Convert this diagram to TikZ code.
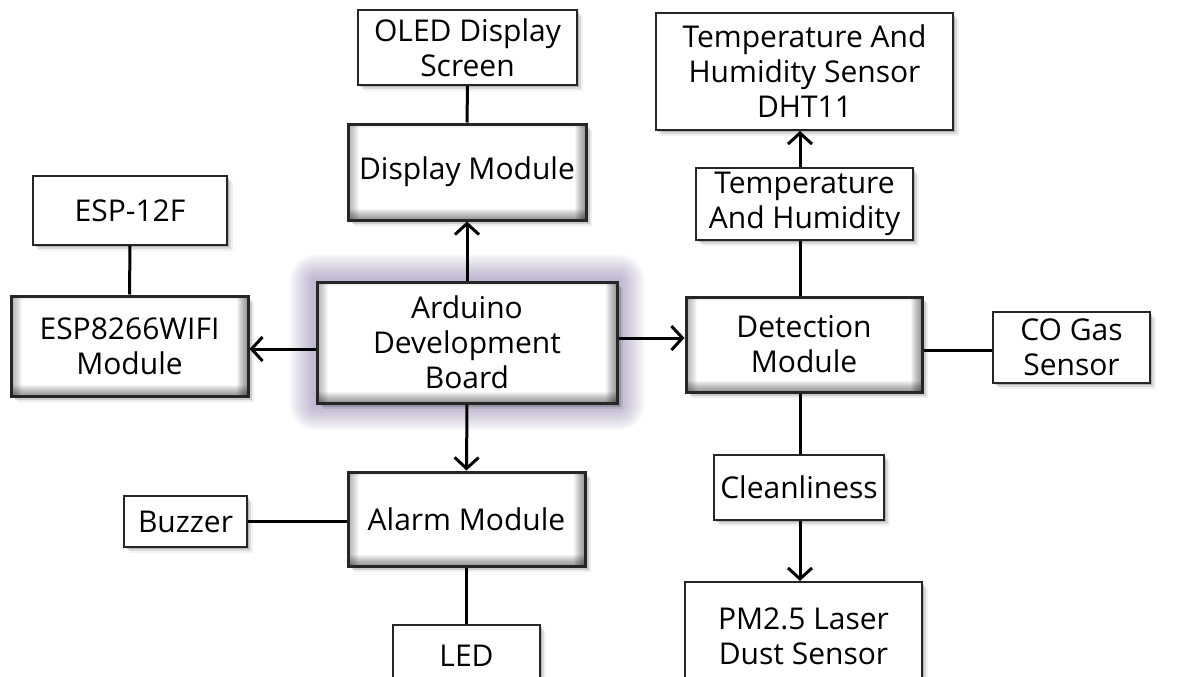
\documentclass[tikz,border=0pt]{standalone}
\usepackage{fontspec}
\setmainfont{Open Sans}
\usetikzlibrary{arrows.meta,shadows,backgrounds,calc}
\tikzset{
  basebox/.style={rectangle, inner sep=0pt, align=center, fill=white,
    font=\fontsize{30}{35}\selectfont},
  plainbox/.style={basebox, draw=black!85, line width=2pt,
    drop shadow={shadow xshift=2pt, shadow yshift=-2pt, opacity=.18, fill=black},
    drop shadow={shadow xshift=4pt, shadow yshift=-4pt, opacity=.10, fill=black},
    drop shadow={shadow xshift=6pt, shadow yshift=-6pt, opacity=.05, fill=black}},
  bevelbox/.style={basebox, draw=black!85, line width=3pt,
    drop shadow={shadow xshift=2pt, shadow yshift=-2pt, opacity=.25, fill=black},
    drop shadow={shadow xshift=4pt, shadow yshift=-4pt, opacity=.14, fill=black},
    drop shadow={shadow xshift=6pt, shadow yshift=-6pt, opacity=.07, fill=black},
    path picture={
      \foreach \i in {1,...,11}{
        \fill[black, opacity=.045]
          ([yshift=\i pt]path picture bounding box.south west) rectangle (path picture bounding box.south east);
        \fill[black, opacity=.045]
          ([xshift=-\i pt]path picture bounding box.north east) rectangle (path picture bounding box.south east);
        \fill[black, opacity=.03]
          (path picture bounding box.north west) rectangle ([xshift=\i pt]path picture bounding box.south west);
      }
      \foreach \i in {1,...,4}{
        \fill[black, opacity=.03]
          (path picture bounding box.north west) rectangle ([yshift=-\i pt]path picture bounding box.north east);
      }
    }},
  conn/.style={line width=3pt, black},
  arr/.style={conn, -{Straight Barb[length=11pt, width=24pt]}},
}
\begin{document}
\begin{tikzpicture}[x=1pt, y=-1pt]
\path[use as bounding box, clip] (0,0) rectangle (1184,677);

\node[plainbox, minimum width=219pt, minimum height=75pt] (oled) at (467.5,47.5) {OLED Display\\Screen};
\node[bevelbox, minimum width=238pt, minimum height=96pt] (disp) at (467,172) {Display Module};
\node[plainbox, minimum width=297pt, minimum height=117pt] (dht) at (804.5,71.5) {Temperature And\\Humidity Sensor\\DHT11};
\node[plainbox, minimum width=217pt, minimum height=72pt] (th) at (804.5,204) {Temperature\\And Humidity};
\node[plainbox, minimum width=194pt, minimum height=69pt] (esp12) at (130,210.5) {ESP-12F};
\node[bevelbox, minimum width=237pt, minimum height=100pt] (esp) at (129.5,346) {ESP8266WIFI\\Module};
\node[bevelbox, minimum width=300pt, minimum height=121pt] (ard) at (467,342.5) {Arduino\\Development\\Board};
\node[bevelbox, minimum width=236pt, minimum height=95pt] (det) at (804,344.5) {Detection\\Module};
\node[plainbox, minimum width=157pt, minimum height=71pt] (co) at (1071.5,347.5) {CO Gas\\Sensor};
\node[plainbox, minimum width=170pt, minimum height=65pt] (clean) at (799,487.5) {Cleanliness};
\node[plainbox, minimum width=237pt, minimum height=108pt] (pm) at (803.5,636) {PM2.5 Laser\\Dust Sensor};
\node[plainbox, minimum width=123pt, minimum height=51pt] (buz) at (185.5,521.5) {Buzzer};
\node[bevelbox, minimum width=237pt, minimum height=94pt] (alarm) at (466.5,519) {Alarm Module};
\node[plainbox, minimum width=147pt, minimum height=74pt] (led) at (466.5,662) {\raisebox{12pt}{LED}};

% white page and glow around Arduino board
\begin{scope}[on background layer]
  \fill[white] (0,0) rectangle (1184,677);
  \foreach \g in {26,24,...,2}{
    \fill[rounded corners=\g pt, opacity=.04, color={rgb,255:red,110;green,90;blue,150}]
      ([xshift=-\g pt, yshift=\g pt]ard.north west) rectangle ([xshift=\g pt, yshift=-\g pt]ard.south east);
  }
\end{scope}

\coordinate (yA) at (0,349);
\coordinate (yB) at (0,338);
\coordinate (yC) at (0,350);

\draw[conn] (oled.south) -- (disp.north);
\draw[arr] (ard.north) -- (disp.south);
\draw[arr] (ard.west |- yA) -- (esp.east |- yA);
\draw[conn] (esp12.south) -- (esp.north);
\draw[arr] (ard.east |- yB) -- (det.west |- yB);
\draw[arr] (ard.south) -- (alarm.north);
\draw[conn] (buz.east) -- (alarm.west |- buz.east);
\draw[conn] (alarm.south) -- (led.north);
\draw[conn] (det.north -| 800,0) -- (th.south -| 800,0);
\draw[arr] (th.north -| 800,0) -- (dht.south -| 800,0);
\draw[conn] (det.east |- yC) -- (co.west |- yC);
\draw[conn] (det.south -| 800,0) -- (clean.north -| 800,0);
\draw[arr] (clean.south -| 800,0) -- (pm.north -| 800,0);
\end{tikzpicture}
\end{document}
